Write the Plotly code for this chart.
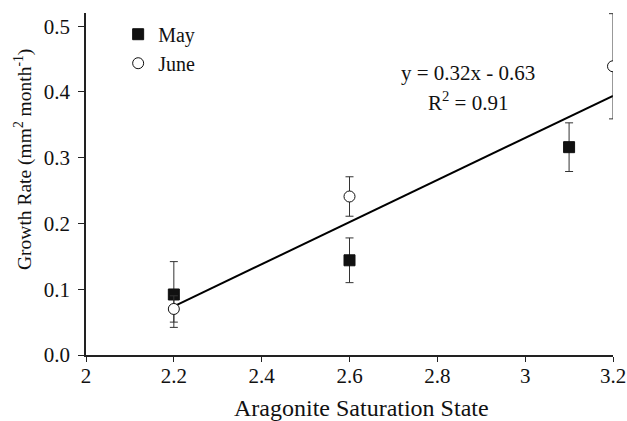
import plotly.graph_objects as go

may_x = [2.2, 2.6, 3.1]
may_y = [0.092, 0.144, 0.316]
may_err = [0.050, 0.034, 0.037]

june_x = [2.2, 2.6, 3.2]
june_y = [0.070, 0.241, 0.439]
june_err = [0.020, 0.030, 0.080]

slope, intercept = 0.32, -0.63
fit_x = [2.2, 3.2]
fit_y = [slope * v + intercept for v in fit_x]

x_ticks = [2, 2.2, 2.4, 2.6, 2.8, 3, 3.2]
x_tick_text = ["2", "2.2", "2.4", "2.6", "2.8", "3", "3.2"]
y_ticks = [0.0, 0.1, 0.2, 0.3, 0.4, 0.5]
y_tick_text = ["0.0", "0.1", "0.2", "0.3", "0.4", "0.5"]

FONT = "Liberation Serif, Times New Roman, serif"

# plot-area pixel geometry (used only for placing text)
L, R, T, B = 86, 613, 13, 355
PW, PH = R - L, B - T

def px(xp):
    return (xp - L) / PW

def py(yp):
    return (B - yp) / PH

fig = go.Figure()
fig.add_trace(go.Scatter(x=fit_x, y=fit_y, mode="lines",
                         line=dict(color="black", width=2), showlegend=False,
                         hoverinfo="skip"))
fig.add_trace(go.Scatter(x=may_x, y=may_y, mode="markers", name="May",
                         marker=dict(symbol="square", size=11, color="#111111",
                                     line=dict(color="#111111", width=1)),
                         error_y=dict(type="data", array=may_err, color="#333333",
                                      thickness=1, width=4)))
fig.add_trace(go.Scatter(x=june_x, y=june_y, mode="markers", name="June",
                         marker=dict(symbol="circle", size=11, color="white",
                                     line=dict(color="#111111", width=1)),
                         error_y=dict(type="data", array=june_err, color="#333333",
                                      thickness=1, width=4)))

fig.add_annotation(xref="paper", yref="paper", x=px(468), y=py(73),
                   xanchor="center", yanchor="middle",
                   text="y = 0.32x - 0.63", showarrow=False,
                   font=dict(family=FONT, size=21, color="#111111"))
fig.add_annotation(xref="paper", yref="paper", x=px(468), y=py(101),
                   xanchor="center", yanchor="middle",
                   text="R<sup>2</sup> = 0.91", showarrow=False,
                   font=dict(family=FONT, size=21, color="#111111"))
# axis titles
fig.add_annotation(xref="paper", yref="paper", x=px(361), y=py(408),
                   xanchor="center", yanchor="middle",
                   text="Aragonite Saturation State", showarrow=False,
                   font=dict(family=FONT, size=24, color="#111111"))
fig.add_annotation(xref="paper", yref="paper", x=px(23), y=py(160),
                   xanchor="center", yanchor="middle", textangle=-90,
                   text="Growth Rate (mm<sup>2</sup> month<sup>-1</sup>)", showarrow=False,
                   font=dict(family=FONT, size=19.5, color="#111111"))

fig.update_layout(
    width=627, height=421,
    margin=dict(l=L, r=627 - R, t=T, b=421 - B),
    paper_bgcolor="white", plot_bgcolor="white",
    font=dict(family=FONT, size=21, color="#111111"),
    legend=dict(x=0.061, y=0.995, xanchor="left", yanchor="top",
                bgcolor="rgba(0,0,0,0)", font=dict(size=20),
                itemwidth=30, tracegroupgap=0),
    xaxis=dict(range=[2, 3.2], tickvals=x_ticks, ticktext=x_tick_text,
               showgrid=False, zeroline=False, showline=True, linecolor="#222222",
               linewidth=1.5, ticks="outside", ticklen=5, tickcolor="#222222",
               ticklabeloverflow="allow", automargin=False, ticklabelstandoff=-4),
    yaxis=dict(range=[0, 0.52], tickvals=y_ticks, ticktext=y_tick_text,
               showgrid=False, zeroline=False, showline=True, linecolor="#222222",
               linewidth=1.5, ticks="outside", ticklen=6, tickcolor="#222222",
               automargin=False, ticklabelstandoff=4),
)

fig.write_html("out.html", config={"displayModeBar": False},
               post_script="document.body.style.margin='0';document.body.style.padding='0';document.body.style.overflow='hidden';")
